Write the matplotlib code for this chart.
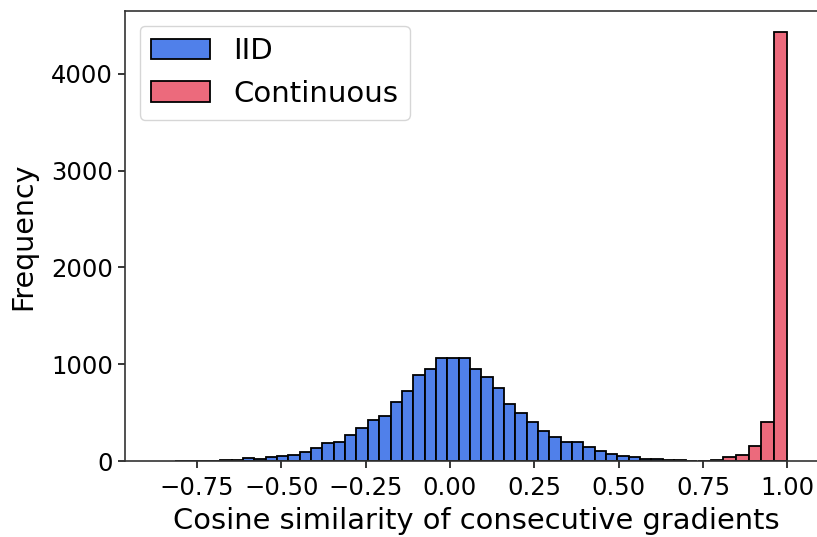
import numpy as np
import matplotlib.pyplot as plt

# bar heights
iid_counts = [2, 3, 4, 5, 6, 8, 27, 22, 45, 56, 58, 90, 131, 183, 193, 265,
              344, 420, 462, 613, 726, 890, 952, 1067, 1067, 1067, 948, 865,
              751, 589, 492, 406, 313, 245, 200, 193, 145, 106, 72, 52, 38,
              25, 17, 11, 6, 4]
iid_range = (-0.815, 0.732)

cont_counts = [5, 8, 38, 63, 150, 406, 4435]
cont_range = (0.735, 0.998)

labels = ['IID', 'Continuous']

fig = plt.figure(figsize=(8.17, 5.37), dpi=100)
# the reference is cropped on the right, so the axes run past the figure edge
ax = fig.add_axes([0.153, 0.1415, 0.86, 0.838])

iid_edges = np.linspace(iid_range[0], iid_range[1], len(iid_counts) + 1)
iid_mid = (iid_edges[:-1] + iid_edges[1:]) / 2
ax.hist(iid_mid, bins=iid_edges, weights=iid_counts, color='#5080ea',
        edgecolor='black', linewidth=1.3, label=labels[0])

cont_edges = np.linspace(cont_range[0], cont_range[1], len(cont_counts) + 1)
cont_mid = (cont_edges[:-1] + cont_edges[1:]) / 2
ax.hist(cont_mid, bins=cont_edges, weights=cont_counts, color='#ec6a7c',
        edgecolor='black', linewidth=1.3, label=labels[1])

ax.set_xlim(-0.963, 1.1195)
ax.set_ylim(0, 4649)
ax.set_xticks([-0.75, -0.5, -0.25, 0.0, 0.25, 0.5, 0.75, 1.0])
ax.set_yticks([0, 1000, 2000, 3000, 4000])
ax.tick_params(labelsize=17.5, width=1.1, length=5)
ax.tick_params(axis='x', pad=6)
for s in ax.spines.values():
    s.set_color('#333333')
    s.set_linewidth(1.2)
ax.set_xlabel('Cosine similarity of consecutive gradients', fontsize=20.8, labelpad=5)
ax.set_ylabel('Frequency', fontsize=20.5, labelpad=10)
ax.legend(loc='upper left', fontsize=21)

fig.savefig('out.png', dpi=100)
